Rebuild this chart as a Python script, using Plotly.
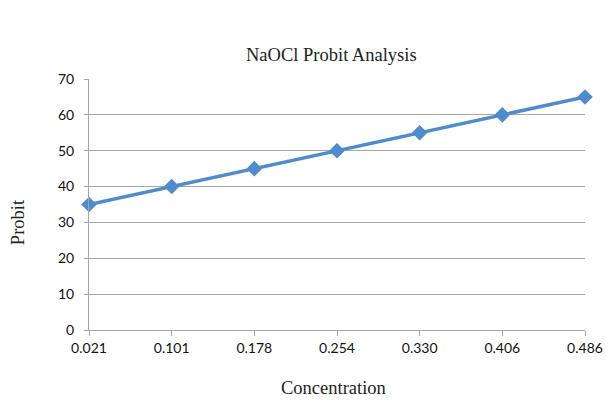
import plotly.graph_objects as go

concentration = ["0.021", "0.101", "0.178", "0.254", "0.330", "0.406", "0.486"]
probit = [35, 40, 45, 50, 55, 60, 65]
y_ticks = [0, 10, 20, 30, 40, 50, 60, 70]

serif = dict(family="Liberation Serif", size=18.5, color="#222222")

fig = go.Figure()
fig.add_trace(go.Scatter(
    x=concentration, y=probit, mode="lines+markers",
    line=dict(color="#4F8CCB", width=3.5),
    marker=dict(symbol="diamond", size=12, color="#4F8CCB"),
    showlegend=False, cliponaxis=False,
))

fig.update_layout(
    width=606, height=400,
    margin=dict(l=89, r=21, t=79, b=70),
    paper_bgcolor="white", plot_bgcolor="white",
    xaxis=dict(type="category", range=[0, 6], showgrid=False, automargin=False,
               showline=True, linecolor="#A6A6A6", linewidth=1,
               ticks="outside", ticklen=5, tickcolor="#A6A6A6",
               tickfont=dict(family="Lato", size=14, color="#111111")),
    yaxis=dict(range=[0, 70], tickvals=y_ticks, showgrid=True, gridcolor="#A6A6A6", gridwidth=1,
               showline=True, linecolor="#A6A6A6", linewidth=1, automargin=False,
               ticks="outside", ticklen=4, tickcolor="#A6A6A6", zeroline=False,
               ticklabelstandoff=7,
               tickfont=dict(family="Lato", size=14, color="#111111")),
    annotations=[
        dict(text="NaOCl Probit Analysis", x=0.488, y=1.0956, xref="paper", yref="paper",
             xanchor="center", yanchor="middle", showarrow=False, font=serif),
        dict(text="Concentration", x=0.492, y=-0.233, xref="paper", yref="paper",
             xanchor="center", yanchor="middle", showarrow=False, font=serif),
        dict(text="Probit", x=-0.143, y=0.430, xref="paper", yref="paper", textangle=-90,
             xanchor="center", yanchor="middle", showarrow=False, font=serif),
    ],
)

fig.write_html("out.html", config={"displayModeBar": False},
               post_script="document.body.style.margin='0';document.body.style.overflow='hidden';")
